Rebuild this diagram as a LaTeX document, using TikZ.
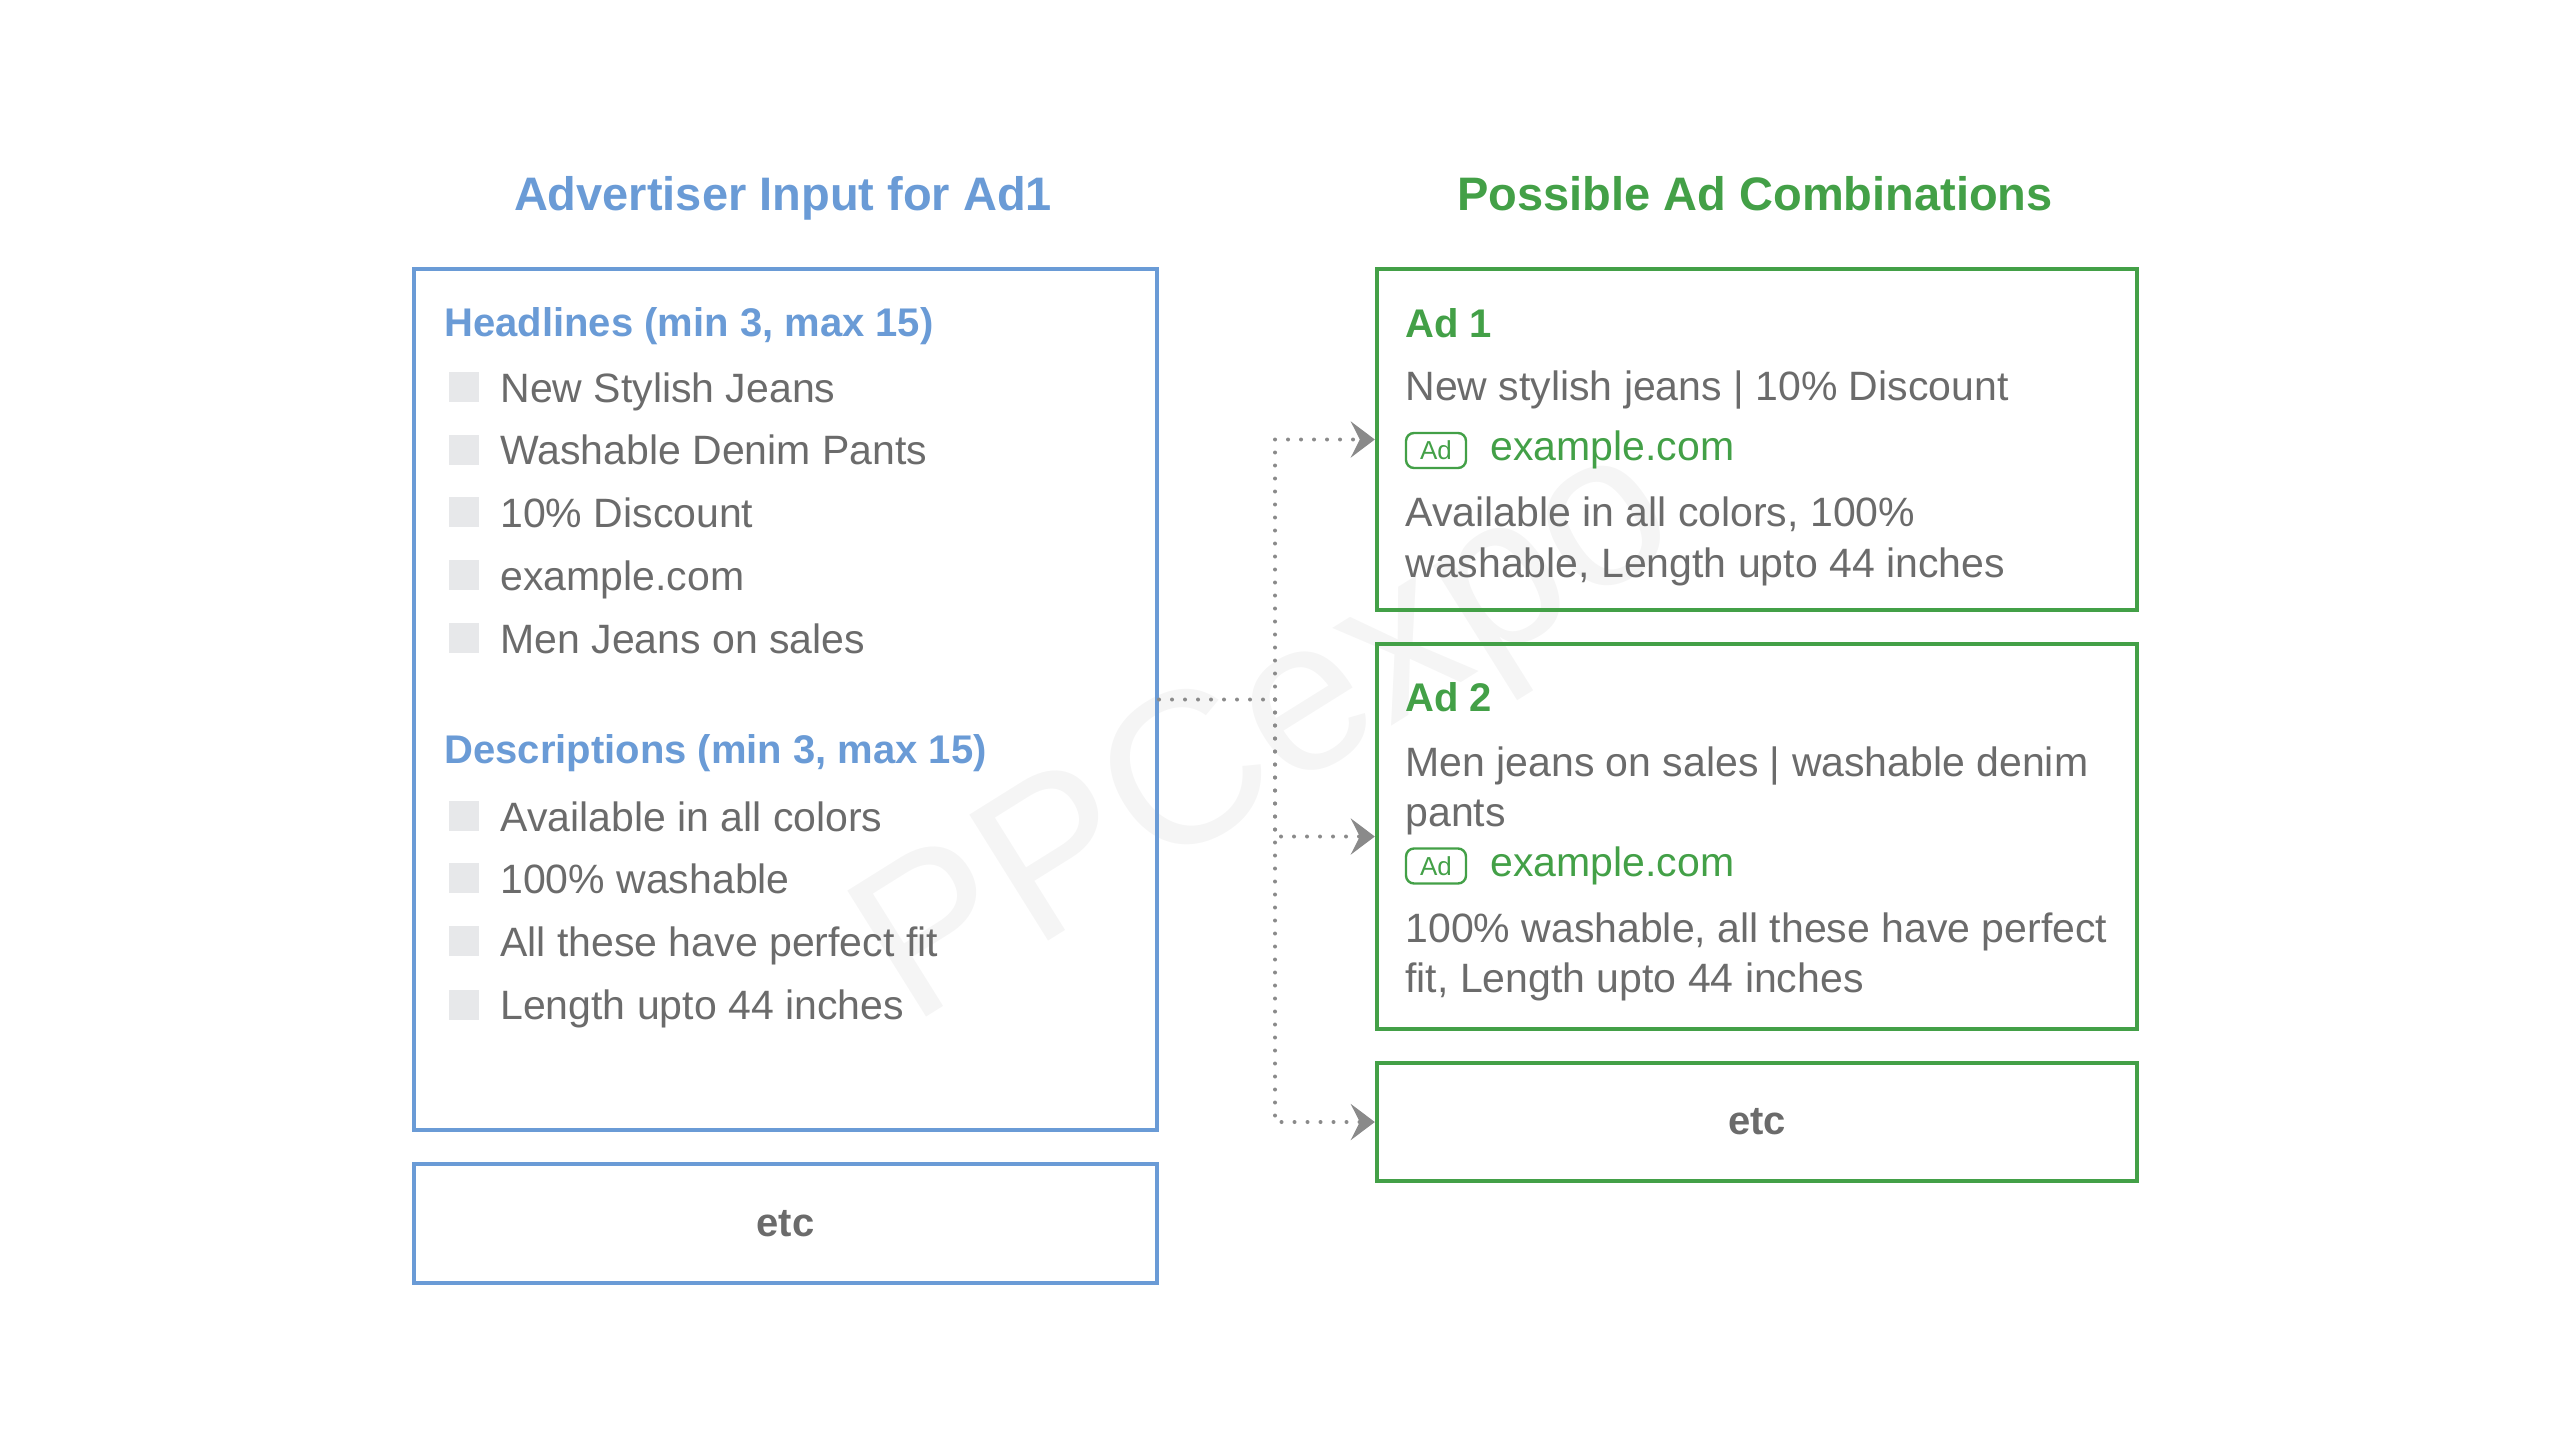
\documentclass[tikz,border=0pt]{standalone}
\usepackage{fontspec}
\setmainfont{Liberation Sans}
\usetikzlibrary{arrows.meta}
\definecolor{blueC}{HTML}{6A9BD6}
\definecolor{greenC}{HTML}{43A047}
\definecolor{textC}{HTML}{6B6B6B}
\definecolor{bulletC}{HTML}{E7E8EA}
\definecolor{arrowC}{HTML}{8A8A8A}
\definecolor{wmC}{HTML}{F5F5F5}
\begin{document}
\begin{tikzpicture}[x=0.5pt,y=-0.5pt,
  titletext/.style={anchor=base, inner sep=0, font=\fontsize{23.5}{28}\selectfont\bfseries},
  headtext/.style={anchor=base west, inner sep=0, text=blueC, font=\fontsize{20}{24}\selectfont\bfseries},
  adtitle/.style={anchor=base west, inner sep=0, text=greenC, font=\fontsize{20}{24}\selectfont\bfseries},
  itemtext/.style={anchor=base west, inner sep=0, text=textC, font=\fontsize{20.5}{24}\selectfont},
  urltext/.style={anchor=base west, inner sep=0, text=greenC, font=\fontsize{20.5}{24}\selectfont},
  bulletbox/.style={fill=bulletC, minimum size=15pt, inner sep=0},
  bluebox/.style={draw=blueC, line width=2pt, inner sep=0, minimum width=371.5pt, text=textC, font=\fontsize{20}{24}\selectfont\bfseries},
  greenbox/.style={draw=greenC, line width=2.2pt, inner sep=0, minimum width=380pt, text=textC, font=\fontsize{20}{24}\selectfont\bfseries},
  badge/.style={draw=greenC, line width=1.2pt, rounded corners=4pt, minimum width=30pt, minimum height=17.5pt, inner sep=0, text=greenC, font=\fontsize{13}{14}\selectfont},
  conn/.style={draw=arrowC, line width=2pt, line cap=round, dash pattern=on 0pt off 6.5pt},
  tip/.style={-{Stealth[length=12pt,width=18pt,inset=4.5pt,fill=arrowC]}}
]
\useasboundingbox (0,0) rectangle (2551,1451);

% watermark
\node[rotate=32, text=wmC, inner sep=0, font=\fontsize{108}{108}\selectfont] (wm) at (1270,740) {PPCexpo};

% titles
\node[titletext, text=blueC] (ltitle) at (783,210) {Advertiser Input for Ad1};
\node[titletext, text=greenC] (rtitle) at (1755,210) {Possible Ad Combinations};

% left boxes
\node[bluebox, minimum height=430.5pt] (leftbox) at (785.5,699.5) {};
\node[bluebox, minimum height=59.5pt] (leftetc) at (785.5,1223.5) {etc};

% headlines
\node[headtext] (hhead) at (444,336) {Headlines (min 3, max 15)};
\node[bulletbox] (b1) at (464,387) {};
\node[itemtext] (h1) at (500,402) {New Stylish Jeans};
\node[bulletbox] (b2) at (464,449.5) {};
\node[itemtext] (h2) at (500,464.5) {Washable Denim Pants};
\node[bulletbox] (b3) at (464,512) {};
\node[itemtext] (h3) at (500,527) {10\% Discount};
\node[bulletbox] (b4) at (464,575) {};
\node[itemtext] (h4) at (500,590) {example.com};
\node[bulletbox] (b5) at (464,638) {};
\node[itemtext] (h5) at (500,653) {Men Jeans on sales};

% descriptions
\node[headtext] (dhead) at (444,763) {Descriptions (min 3, max 15)};
\node[bulletbox] (d1b) at (464,816) {};
\node[itemtext] (d1) at (500,831) {Available in all colors};
\node[bulletbox] (d2b) at (464,878) {};
\node[itemtext] (d2) at (500,893) {100\% washable};
\node[bulletbox] (d3b) at (464,941) {};
\node[itemtext] (d3) at (500,956) {All these have perfect fit};
\node[bulletbox] (d4b) at (464,1004.5) {};
\node[itemtext] (d4) at (500,1019.5) {Length upto 44 inches};

% right boxes
\node[greenbox, minimum height=170.5pt] (ad1) at (1757,439.5) {};
\node[greenbox, minimum height=192.5pt] (ad2) at (1757,836.5) {};
\node[greenbox, minimum height=59pt] (retc) at (1757,1122) {etc};

% ad 1
\node[adtitle] (a1t) at (1405,337) {Ad 1};
\node[itemtext] (a1h) at (1405,400) {New stylish jeans | 10\% Discount};
\node[badge] (a1b) at (1436,450.5) {Ad};
\node[urltext] (a1u) at (1490,460) {example.com};
\node[itemtext] (a1d1) at (1405,526) {Available in all colors, 100\%};
\node[itemtext] (a1d2) at (1405,577) {washable, Length upto 44 inches};

% ad 2
\node[adtitle] (a2t) at (1405,711) {Ad 2};
\node[itemtext] (a2h1) at (1405,776) {Men jeans on sales | washable denim};
\node[itemtext] (a2h2) at (1405,826) {pants};
\node[badge] (a2b) at (1436,866) {Ad};
\node[urltext] (a2u) at (1490,876) {example.com};
\node[itemtext] (a2d1) at (1405,942) {100\% washable, all these have perfect};
\node[itemtext] (a2d2) at (1405,992) {fit, Length upto 44 inches};

% connectors
\coordinate (j) at (1275,699.5);
\draw[conn] (leftbox) -- (j);
\draw[conn, tip] (j) |- (ad1);
\draw[conn, tip] (j) |- (ad2);
\draw[conn, tip] (j) |- (retc);
\end{tikzpicture}
\end{document}
